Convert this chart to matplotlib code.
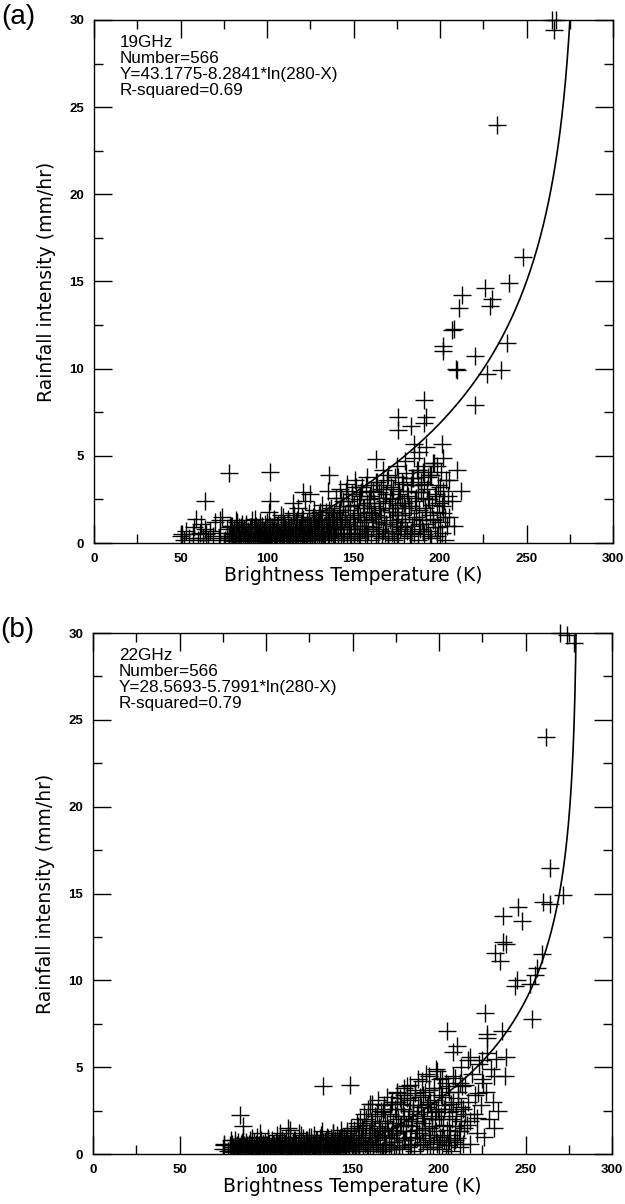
import numpy as np
import matplotlib.pyplot as plt
from matplotlib.ticker import MultipleLocator

plt.rcParams['font.family'] = ['Liberation Sans', 'DejaVu Sans']

# Panel (a) 19GHz: as (Tb, rain) pairs
a_low = [(50,0.4),(52,0.2),(53,0.7),(55,0.3),(57,0.5),(58,0.9),(60,0.2),(61,0.6),(62,1.1),(63,0.3),
         (64,0.8),(65,0.5),(66,0.2),(67,0.7),(69,0.4),(70,1.2),(72,0.3),(73,0.6),(74,1.5),(76,0.2),
         (77,0.8),(78,0.4),(79,1.0),(80,0.6),(81,0.3),(82,1.3),(83,0.5),(84,0.2),(85,0.9),(86,0.7),
         (87,0.4),(88,1.1),(89,0.3),(90,0.6),(91,0.9),(92,0.2),(93,1.4),(94,0.5),(95,0.8),(96,0.3),
         (97,1.0),(98,0.6),(99,0.4),(100,1.2)]
a_mid = [(100,0.6),(101,1.8),(101,0.3),(102,0.9),(103,0.5),(104,1.3),(104,0.2),(105,0.7),(106,1.0),
         (107,0.4),(108,1.6),(108,0.6),(109,0.3),(110,1.1),(111,0.8),(112,0.2),(112,1.4),(113,0.5),
         (114,0.9),(115,0.3),(115,1.7),(116,0.6),(117,1.2),(118,0.4),(118,2.0),(119,0.8),(120,0.3),
         (120,1.5),(121,0.6),(122,1.0),(122,2.4),(123,0.4),(124,1.3),(125,0.7),(125,2.8),(126,0.2),
         (127,1.1),(127,1.9),(128,0.5),(129,0.9),(130,1.6),(130,0.3),(131,1.2),(132,0.6),(132,2.2),
         (133,0.4),(134,1.0),(134,1.8),(135,0.7),(136,1.4),(136,0.3),(137,2.0),(138,0.9),(138,1.5),
         (139,0.5),(140,1.2),(140,2.6)]
a_high = [(141,0.5),(142,1.9),(142,3.1),(143,1.0),(144,2.4),(144,0.4),(145,1.5),(146,3.4),(146,0.8),
          (147,2.1),(148,1.2),(148,0.3),(149,2.8),(150,1.6),(150,0.6),(151,3.6),(152,2.2),(152,1.0),
          (153,0.4),(154,2.7),(154,1.5),(155,3.2),(156,0.8),(156,2.0),(157,1.3),(158,3.8),(158,0.5),
          (159,2.5),(160,1.7),(160,3.0),(161,0.9),(162,2.3),(163,1.2),(163,3.5),(164,0.4),(165,2.0),
          (165,2.9),(166,1.5),(167,0.7),(167,3.3),(168,2.4),(169,1.1),(170,3.9),(170,0.3),(171,2.6),
          (172,1.8),(172,0.6),(173,3.1),(174,2.0),(175,1.2),(175,4.4),(176,2.8),(177,0.8),(178,3.5),
          (178,1.6),(179,2.3),(180,4.7),(180,1.0),(181,3.0),(182,2.1),(183,0.5),(184,3.7),(185,1.4),
          (185,4.9),(186,2.6),(187,3.3),(188,1.1),(188,5.2),(189,2.9),(190,0.7),(190,4.1),(191,3.4),
          (192,1.8),(193,2.5),(194,0.4),(195,3.9),(196,1.3),(197,2.7),(198,4.4),(199,0.9),(200,3.2),
          (201,2.1),(202,4.9),(203,1.5),(205,3.6),(207,2.4),(208,1.0),(210,4.2),(212,3.0)]
a_out = [(233,24.0),(248,16.4),(240,14.9),(226,14.6),(230,14.0),(229,13.6),(213,14.2),(211,13.5),
         (207,12.2),(208,12.3),(202,11.3),(202,11.0),(209,10.0),(210,9.9),(220,10.7),(220,7.9),
         (239,11.5),(235,9.9),(227,9.7),(191,8.2),(192,7.2),(191,6.9),(176,7.2),(176,6.5),(183,6.7),
         (185,5.7),(192,5.5),(201,5.7),(196,4.6),(193,3.8),(187,4.2),(163,4.8),(167,4.2),(176,3.8),
         (178,2.3),(136,3.9),(135,3.0),(121,2.9),(115,2.3),(102,4.1),(78,4.0),(102,2.4),(64,2.4),
         (59,1.4),(73,1.3),(51,0.5)]
a_top = [(265,30.0),(267,30.0),(266,29.4)]

# dense bottom band of panel (a)
a_band_x = [78,78.5,79,79.5,80,80.5,81,81.5,82,82.5,83,83.5,84,84.5,85,85.5,86,86.5,87,87.5,
            88,88.5,89,89.5,90,90.5,91,91.5,92,92.5,93,93.5,94,94.5,95,95.5,96,96.5,97,97.5,
            98,98.5,99,99.5,100,100.5,101,101.5,102,102.5,103,103.5,104,104.5,105,105.5,106,106.5,107,107.5,
            108,108.5,109,109.5,110,110.5,111,111.5,112,112.5,113,113.5,114,114.5,115,115.5,116,116.5,117,117.5,
            118,118.5,119,119.5,120,120.5,121,121.5,122,122.5,123,123.5,124,124.5,125,125.5,126,126.5,127,127.5,
            128,128.5,129,129.5,130,130.5,131,131.5,132,132.5,133,133.5,134,134.5,135,135.5,136,136.5,137,137.5,
            138,138.5,139,139.5,140,140.5]
a_band_y = [0.3,0.9,0.6,0.2,1.0,0.5,0.8,0.1,0.4,1.2,0.7,0.3,0.9,0.2,0.6,1.1,0.4,0.8,0.2,0.5,
            1.0,0.3,0.7,0.1,0.9,0.6,0.4,1.3,0.2,0.8,0.5,1.0,0.3,0.7,0.1,0.6,1.2,0.4,0.9,0.2,
            0.7,0.5,1.1,0.3,0.8,0.1,0.6,1.0,0.4,0.2,0.9,0.7,1.4,0.3,0.5,0.8,0.2,1.1,0.6,0.4,
            1.0,0.3,0.7,1.5,0.2,0.9,0.5,0.1,1.2,0.6,0.8,0.3,1.0,0.4,0.7,1.6,0.2,0.9,0.5,1.3,
            0.3,0.8,0.6,1.1,0.1,0.7,1.4,0.4,0.9,0.2,1.2,0.6,0.8,1.7,0.3,1.0,0.5,1.5,0.2,0.9,
            0.7,1.3,0.4,1.1,0.6,1.8,0.3,0.8,1.4,0.5,1.0,0.2,1.6,0.7,1.2,0.4,1.9,0.9,0.6,1.3,
            0.3,1.1,1.7,0.5,0.8,1.4]
a_rise_x = [141,141.5,142,142.5,143,143.5,144,144.5,145,145.5,146,146.5,147,147.5,148,148.5,149,149.5,150,150.5,
            151,151.5,152,152.5,153,153.5,154,154.5,155,155.5,156,156.5,157,157.5,158,158.5,159,159.5,160,160.5,
            161,161.5,162,162.5,163,163.5,164,164.5,165,165.5,166,166.5,167,167.5,168,168.5,169,169.5,170,170.5,
            171,171.5,172,172.5,173,173.5,174,174.5,175,175.5,176,176.5,177,177.5,178,178.5,179,179.5,180,180.5,
            181,181.5,182,182.5,183,183.5,184,184.5,185,185.5,186,186.5,187,187.5,188,188.5,189,189.5,190,190.5,
            191,191.5,192,192.5,193,193.5,194,194.5,195,195.5,196,196.5,197,197.5,198,198.5,199,199.5,200,200.5,
            201,201.5,202,202.5,203,203.5,204,204.5,205]
a_rise_y = [0.4,1.8,0.9,2.6,0.2,1.3,2.1,0.6,1.6,3.0,0.3,1.1,2.4,0.8,1.9,0.5,2.8,1.4,0.2,2.2,
            1.0,3.2,0.6,1.7,2.5,0.3,1.2,2.9,0.8,2.0,1.5,0.4,3.3,1.0,2.3,0.7,1.8,2.7,0.2,1.4,
            3.0,0.9,2.1,1.6,0.5,3.5,1.2,2.6,0.8,1.9,3.1,0.3,2.3,1.5,0.6,2.8,1.1,3.6,0.4,2.0,
            1.3,3.2,0.7,2.5,1.8,0.2,3.8,1.0,2.2,1.6,0.5,3.0,2.6,0.9,1.4,3.4,0.3,2.0,1.2,4.0,
            0.7,2.7,1.7,0.4,3.3,2.1,1.0,3.7,0.6,2.4,1.5,4.2,0.2,2.9,1.9,0.8,3.5,1.3,2.6,0.5,
            4.4,2.0,1.1,3.1,0.7,2.5,1.6,3.9,0.3,2.2,1.4,4.6,0.9,2.8,1.8,0.4,3.3,2.3,1.2,4.1,
            0.6,3.0,1.7,2.4,0.2,3.6,1.0,2.7,1.5]

# Panel (b) 22GHz
b_low = [(75,0.3),(76,0.6),(78,0.2),(79,0.5),(80,0.8),(81,0.3),(82,0.6),(84,0.2),(85,0.4),(86,0.7),
         (88,0.3),(89,0.5),(90,0.2),(91,0.6),(92,0.9),(94,0.3),(95,0.5),(96,0.2),(98,0.6),(100,0.4),
         (101,0.8),(103,0.3),(104,0.6),(106,0.2),(107,0.5),(108,0.9),(110,0.3),(111,0.6),(112,0.2),
         (114,0.5),(116,0.8),(117,0.3),(119,0.6),(120,1.1),(121,0.2),(122,0.5),(123,0.8),(124,0.3),
         (125,0.6),(126,1.0),(127,0.2),(128,0.5),(129,0.8),(130,0.3),(131,0.6),(132,1.1),(133,0.4),
         (134,0.7),(135,0.2),(136,0.9),(137,0.5),(138,0.3),(139,1.2),(140,0.6),(141,0.2),(142,0.8),
         (143,0.4),(144,1.0),(145,0.6),(146,0.3),(147,1.3),(148,0.5),(149,0.8),(150,0.2)]
b_mid = [(151,1.1),(152,0.5),(153,1.6),(154,0.3),(155,0.9),(156,1.4),(157,0.6),(158,2.0),(159,0.4),
         (160,1.2),(160,0.7),(161,1.8),(162,0.3),(163,1.0),(164,2.3),(165,0.6),(166,1.5),(167,0.2),
         (168,1.1),(168,2.6),(169,0.5),(170,1.8),(171,0.9),(172,2.9),(172,0.3),(173,1.4),(174,0.7),
         (175,2.2),(176,1.2),(176,3.0),(177,0.4),(178,1.7),(179,2.6),(180,0.8),(180,3.4),(181,1.3),
         (182,2.0),(183,0.5),(183,3.1),(184,1.6),(185,2.5),(186,0.9),(186,3.7),(187,1.9),(188,2.8),
         (189,0.6),(189,3.3),(190,1.4),(190,4.2),(191,2.2),(192,0.9),(192,3.6),(193,2.7),(194,1.5),
         (194,4.5),(195,0.4),(195,3.0),(196,2.0),(197,1.1),(197,3.8),(198,2.5),(199,0.7),(199,4.8)]
b_high = [(200,2.0),(201,3.4),(202,1.0),(203,2.6),(204,0.5),(205,3.9),(206,1.6),(207,2.9),(208,4.5),
          (209,0.8),(210,2.2),(211,3.6),(212,1.3),(213,5.0),(214,2.6),(215,4.0),(216,1.7),(217,3.0),
          (218,0.6),(219,4.6),(220,2.3),(221,3.4),(222,1.2),(223,5.2),(224,2.8),(225,4.3),(226,1.0),
          (227,3.6),(228,5.8),(229,2.0),(230,4.9),(231,3.0),(232,1.5),(233,5.5),(234,2.5)]
b_out = [(262,24.0),(264,16.5),(271.5,14.9),(260,14.5),(264,14.4),(245.5,14.2),(237,13.7),(248,13.4),
         (237,12.2),(239,12.1),(232.5,11.6),(235,11.1),(259.5,11.5),(256.5,10.7),(255.5,10.3),
         (245,10.0),(244,9.7),(252.5,9.8),(254,7.8),(226.5,8.1),(204.5,7.1),(236.5,7.1),(227.5,6.7),
         (228,6.9),(210.5,6.2),(208,5.9),(239,5.6),(218,5.6),(217,5.4),(225,5.4),(232,4.5),(238,4.5),
         (202,4.4),(200.5,4.3),(212,4.1),(225.5,4.1),(222.5,3.5),(133,3.9),(148.5,4.0),(160,2.9),
         (167.5,2.4),(181.5,3.9),(175.5,3.5),(177.5,3.2),(222,2.1),(218,1.9),(206,0.8),(114,1.4),
         (85,2.25),(86.5,1.6),(112.5,1.5),(96.5,1.2),(108,1.2),(76,0.5)]
b_top = [(270,30.0),(274,29.9),(278,29.4)]

# dense bottom band of panel (b)
b_band_x = [80,80.5,81,81.5,82,82.5,83,83.5,84,84.5,85,85.5,86,86.5,87,87.5,88,88.5,89,89.5,
            90,90.5,91,91.5,92,92.5,93,93.5,94,94.5,95,95.5,96,96.5,97,97.5,98,98.5,99,99.5,
            100,100.5,101,101.5,102,102.5,103,103.5,104,104.5,105,105.5,106,106.5,107,107.5,108,108.5,109,109.5,
            110,110.5,111,111.5,112,112.5,113,113.5,114,114.5,115,115.5,116,116.5,117,117.5,118,118.5,119,119.5,
            120,120.5,121,121.5,122,122.5,123,123.5,124,124.5,125,125.5,126,126.5,127,127.5,128,128.5,129,129.5,
            130,130.5,131,131.5,132,132.5,133,133.5,134,134.5,135,135.5,136,136.5,137,137.5,138,138.5,139,139.5,
            140,140.5,141,141.5,142,142.5,143,143.5,144,144.5,145,145.5,146,146.5,147,147.5,148,148.5,149,149.5,
            150]
b_band_y = [0.2,0.6,0.4,0.1,0.8,0.3,0.5,0.2,0.7,0.4,0.1,0.6,0.3,0.9,0.2,0.5,0.4,0.7,0.1,0.3,
            0.6,0.2,0.8,0.4,0.5,0.1,0.7,0.3,0.6,0.2,1.0,0.4,0.5,0.1,0.8,0.3,0.6,0.2,0.4,0.7,
            0.1,0.5,0.9,0.3,0.6,0.2,0.4,0.8,0.1,0.5,0.3,0.7,0.2,1.1,0.4,0.6,0.1,0.3,0.8,0.5,
            0.2,0.7,0.4,0.9,0.1,0.6,0.3,0.5,1.0,0.2,0.4,0.7,0.1,0.8,0.3,0.6,0.2,0.5,1.2,0.4,
            0.7,0.1,0.3,0.9,0.6,0.2,0.5,0.8,0.4,0.1,1.0,0.3,0.7,0.2,0.6,0.4,1.1,0.5,0.1,0.8,
            0.3,0.6,0.9,0.2,0.4,1.3,0.7,0.1,0.5,0.8,0.3,1.0,0.6,0.2,0.4,0.9,0.7,1.2,0.1,0.5,
            0.8,0.3,1.1,0.6,0.2,0.9,0.4,1.4,0.7,0.3,1.0,0.5,0.8,0.2,1.2,0.6,0.4,0.9,1.5,0.3,
            0.7]
b_rise_x = [150.5,151,151.5,152,152.5,153,153.5,154,154.5,155,155.5,156,156.5,157,157.5,158,158.5,159,159.5,160,
            160.5,161,161.5,162,162.5,163,163.5,164,164.5,165,165.5,166,166.5,167,167.5,168,168.5,169,169.5,170,
            170.5,171,171.5,172,172.5,173,173.5,174,174.5,175,175.5,176,176.5,177,177.5,178,178.5,179,179.5,180,
            180.5,181,181.5,182,182.5,183,183.5,184,184.5,185,185.5,186,186.5,187,187.5,188,188.5,189,189.5,190,
            190.5,191,191.5,192,192.5,193,193.5,194,194.5,195,195.5,196,196.5,197,197.5,198,198.5,199,199.5,200,
            200.5,201,201.5,202,202.5,203,203.5,204,204.5,205,205.5,206,206.5,207,207.5,208,208.5,209,209.5,210,
            210.5,211,211.5,212,212.5,213,213.5,214,214.5,215]
b_rise_y = [0.5,1.4,0.2,0.9,1.8,0.6,1.1,0.3,2.0,0.8,1.5,0.4,2.3,1.0,0.7,1.7,0.2,2.6,1.2,0.5,
            1.9,0.9,2.9,0.3,1.4,2.2,0.6,1.1,3.1,0.8,1.6,0.4,2.5,1.3,0.2,2.8,1.0,1.9,0.6,3.3,
            1.5,0.3,2.3,1.1,0.7,3.0,1.8,0.4,2.6,1.2,3.6,0.9,2.0,0.5,1.6,2.9,0.3,1.3,3.8,2.2,
            0.8,1.7,3.2,0.4,2.5,1.0,4.0,0.6,1.9,2.8,0.2,3.5,1.4,2.3,0.9,4.3,1.2,0.5,2.7,1.8,
            3.4,0.7,2.1,1.5,4.6,0.3,2.9,1.1,3.7,0.8,2.4,1.6,0.4,3.1,2.0,4.9,1.3,0.6,2.6,3.8,
            1.0,2.2,0.3,3.3,1.7,0.8,2.8,4.1,1.4,0.5,2.4,3.6,1.1,0.2,2.0,3.0,0.7,1.6,4.4,2.5,
            0.9,3.2,1.3,0.4,2.7,1.9,3.9,0.6,1.5,2.3]

# fitted curves Y = c0 - c1*ln(280-X), as printed on the chart
fit_a = (43.1775, 8.2841)
fit_b = (28.5693, 5.7991)
x_ref = 280

texts_a = ['19GHz', 'Number=566', 'Y=43.1775-8.2841*ln(280-X)', 'R-squared=0.69']
texts_b = ['22GHz', 'Number=566', 'Y=28.5693-5.7991*ln(280-X)', 'R-squared=0.79']

fig = plt.figure(figsize=(6.25, 12.04), dpi=100)
ax_a = fig.add_axes([0.1504, 0.549, 0.8304, 0.4344])
ax_b = fig.add_axes([0.1488, 0.0415, 0.8304, 0.4327])


def draw_panel(ax, groups, band, top, fit, texts, letter):
    pts = [p for g in groups for p in g]
    for bx, by in band:
        pts += list(zip(bx, by))
    xs = [p[0] for p in pts]
    ys = [p[1] for p in pts]
    ax.plot(xs, ys, '+', color='black', ms=13, mew=1.0)
    ax.plot([p[0] for p in top], [p[1] for p in top], '+', color='black',
            ms=13, mew=1.0, clip_on=False)

    c0, c1 = fit
    x_start = x_ref - np.exp(c0 / c1)
    xc = np.linspace(x_start, x_ref - 0.01, 2000)
    yc = c0 - c1 * np.log(x_ref - xc)
    ax.plot(xc, yc, color='black', lw=1.2)

    ax.set_xlim(0, 300)
    ax.set_ylim(0, 30)
    ax.xaxis.set_major_locator(MultipleLocator(50))
    ax.xaxis.set_minor_locator(MultipleLocator(25))
    ax.yaxis.set_major_locator(MultipleLocator(5))
    ax.yaxis.set_minor_locator(MultipleLocator(2.5))
    ax.tick_params(which='both', direction='in', top=True, right=True, width=1.0)
    ax.tick_params(which='major', length=13, labelsize=9.5, pad=7)
    ax.tick_params(which='minor', length=6.5)
    for lab in ax.get_xticklabels() + ax.get_yticklabels():
        lab.set_fontweight('bold')
    for s in ax.spines.values():
        s.set_linewidth(1.0)

    ax.set_xlabel('Brightness Temperature (K)', fontsize=13.5, labelpad=1,
                  family=['DejaVu Sans'])
    ax.set_ylabel('Rainfall intensity (mm/hr)', fontsize=13.5, labelpad=10,
                  family=['DejaVu Sans'])
    ax.text(0.05, 0.972, '\n'.join(texts), transform=ax.transAxes, fontsize=12.3,
            va='top', ha='left', linespacing=1.1)
    ax.text(-0.178, 1.005, letter, transform=ax.transAxes, fontsize=20, va='center')


draw_panel(ax_a, [a_low, a_mid, a_high, a_out], [(a_band_x, a_band_y), (a_rise_x, a_rise_y)],
           a_top, fit_a, texts_a, '(a)')
draw_panel(ax_b, [b_low, b_mid, b_high, b_out], [(b_band_x, b_band_y), (b_rise_x, b_rise_y)],
           b_top, fit_b, texts_b, '(b)')

fig.savefig('out.png', dpi=100)
